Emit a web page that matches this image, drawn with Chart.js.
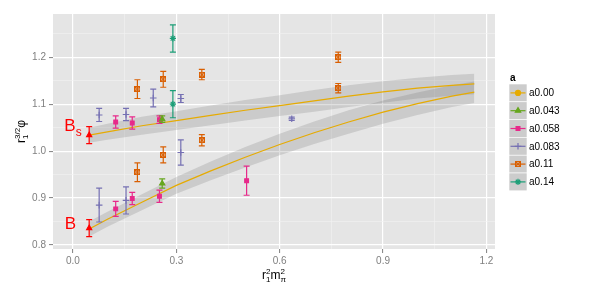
<!DOCTYPE html>
<html>
<head>
<meta charset="utf-8">
<script src="https://cdn.jsdelivr.net/npm/chart.js@4"></script>
<style>
  html, body { margin: 0; padding: 0; background: #fff; }
  #wrap { width: 590px; height: 295px; }
</style>
</head>
<body>
<div id="wrap"><canvas id="chart" width="590" height="295"></canvas></div>
<script>
// fit curves (a -> 0)
const fitX   = [0.047, 0.1, 0.2, 0.3, 0.4, 0.5, 0.6, 0.7, 0.8, 0.9, 1.0, 1.1, 1.165];
const fitBs  = [1.034, 1.041, 1.054, 1.065, 1.076, 1.087, 1.097, 1.107, 1.117, 1.126, 1.134, 1.140, 1.143];
const bandBs = [0.016, 0.017, 0.019, 0.020, 0.021, 0.022, 0.022, 0.023, 0.023, 0.023, 0.022, 0.022, 0.022];
const fitB   = [0.834, 0.855, 0.891, 0.927, 0.958, 0.987, 1.014, 1.039, 1.062, 1.083, 1.101, 1.117, 1.1255];
const bandB  = [0.016, 0.016, 0.017, 0.018, 0.020, 0.022, 0.023, 0.024, 0.025, 0.025, 0.024, 0.023, 0.023];

// lattice points per spacing
const a043X = [0.259, 0.259];
const a043Y = [1.068, 0.931];
const a043E = [0.007, 0.010];

const a058X = [0.124, 0.172, 0.251, 0.124, 0.172, 0.251, 0.504];
const a058Y = [1.062, 1.060, 1.067, 0.877, 0.899, 0.904, 0.937];
const a058E = [0.013, 0.013, 0.008, 0.016, 0.013, 0.013, 0.031];

const a083X = [0.076, 0.154, 0.233, 0.313, 0.635, 0.076, 0.154, 0.313];
const a083Y = [1.077, 1.078, 1.113, 1.112, 1.069, 0.885, 0.895, 0.997];
const a083E = [0.014, 0.013, 0.019, 0.0085, 0.0035, 0.036, 0.029, 0.027];

const a11X = [0.187, 0.262, 0.374, 0.770, 0.187, 0.262, 0.374, 0.770];
const a11Y = [1.132, 1.153, 1.163, 1.200, 0.955, 0.992, 1.023, 1.134];
const a11E = [0.020, 0.017, 0.011, 0.011, 0.020, 0.017, 0.012, 0.010];

const a14X = [0.290, 0.290];
const a14Y = [1.240, 1.100];
const a14E = [0.029, 0.029];

// continuum values (red)
const contX = [0.047, 0.047];
const contY = [1.034, 0.836];
const contE = [0.018, 0.018];
const contLabels = ['Bs', 'B'];

const xTicks = [0.0, 0.15, 0.3, 0.45, 0.6, 0.75, 0.9, 1.05, 1.2];
const yTicks = [0.8, 0.85, 0.9, 0.95, 1.0, 1.05, 1.1, 1.15, 1.2, 1.25];
const xMajor = [0.0, 0.3, 0.6, 0.9, 1.2];
const yMajor = [0.8, 0.9, 1.0, 1.1, 1.2];

const FONT = '"Liberation Sans", Arial, Helvetica, sans-serif';
const colors = {
    a000: '#E6AB02',
    a043: '#66A61E',
    a058: '#E7298A',
    a083: '#7570B3',
    a11: '#D95F02',
    a14: '#1B9E77',
    cont: '#FF0000'
};

function pts(xs, ys) {
    return xs.map((x, i) => ({ x: x, y: ys[i] }));
}

function isMajor(list, v) {
    return list.some(m => Math.abs(m - v) < 1e-6);
}

// small square with an x inside (ggplot shape 7)
function squareCross(color) {
    const c = document.createElement('canvas');
    c.width = 6; c.height = 6;
    const g = c.getContext('2d');
    g.fillStyle = 'rgba(217,95,2,0.35)';
    g.fillRect(0.5, 0.5, 5, 5);
    g.strokeStyle = color;
    g.lineWidth = 1;
    g.strokeRect(0.5, 0.5, 5, 5);
    g.beginPath();
    g.moveTo(0.5, 0.5); g.lineTo(5.5, 5.5);
    g.moveTo(5.5, 0.5); g.lineTo(0.5, 5.5);
    g.stroke();
    return c;
}
const orangeMark = squareCross(colors.a11);

function pointSet(label, xs, ys, es, color, style, radius) {
    return {
        label: label,
        data: pts(xs, ys),
        errs: es,
        showLine: false,
        borderColor: color,
        backgroundColor: color,
        pointStyle: style,
        pointRadius: radius,
        pointBorderWidth: 1.1,
        order: 0
    };
}

const bandHi = (line, half) => line.map((v, i) => v + half[i]);
const bandLo = (line, half) => line.map((v, i) => v - half[i]);

const datasets = [
    pointSet('cont', contX, contY, contE, colors.cont, 'triangle', 3),
    pointSet('a0.043', a043X, a043Y, a043E, colors.a043, 'triangle', 3.1),
    pointSet('a0.058', a058X, a058Y, a058E, colors.a058, 'rect', 2.7),
    pointSet('a0.083', a083X, a083Y, a083E, colors.a083, 'cross', 3.3),
    pointSet('a0.11', a11X, a11Y, a11E, colors.a11, orangeMark, 3),
    pointSet('a0.14', a14X, a14Y, a14E, colors.a14, 'star', 3.1),
    { label: 'fitBs', data: pts(fitX, fitBs), borderColor: colors.a000, borderWidth: 1.2, pointRadius: 0, fill: false, order: 5 },
    { label: 'fitB', data: pts(fitX, fitB), borderColor: colors.a000, borderWidth: 1.2, pointRadius: 0, fill: false, order: 5 },
    { label: 'bandBsHi', data: pts(fitX, bandHi(fitBs, bandBs)), borderWidth: 0, pointRadius: 0, fill: '+1', backgroundColor: 'rgba(100,100,100,0.2)', order: 10 },
    { label: 'bandBsLo', data: pts(fitX, bandLo(fitBs, bandBs)), borderWidth: 0, pointRadius: 0, fill: false, order: 10 },
    { label: 'bandBHi', data: pts(fitX, bandHi(fitB, bandB)), borderWidth: 0, pointRadius: 0, fill: '+1', backgroundColor: 'rgba(100,100,100,0.2)', order: 10 },
    { label: 'bandBLo', data: pts(fitX, bandLo(fitB, bandB)), borderWidth: 0, pointRadius: 0, fill: false, order: 10 }
];

const legendItems = [
    { text: 'a0.00', color: colors.a000, style: 'circle', radius: 2.5 },
    { text: 'a0.043', color: colors.a043, style: 'triangle', radius: 3.1 },
    { text: 'a0.058', color: colors.a058, style: 'rect', radius: 2.7 },
    { text: 'a0.083', color: colors.a083, style: 'cross', radius: 3.3 },
    { text: 'a0.11', color: colors.a11, style: orangeMark, radius: 3 },
    { text: 'a0.14', color: colors.a14, style: 'star', radius: 3.1 }
];

// draws base text with stacked sub/superscripts, centred on cx
function richText(ctx, parts, cx, by) {
    const big = '12px ' + FONT, small = '8px ' + FONT;
    let total = 0;
    const widths = parts.map(p => {
        ctx.font = big;
        let w = ctx.measureText(p.t).width;
        ctx.font = small;
        const s = Math.max(p.sub ? ctx.measureText(p.sub).width : 0, p.sup ? ctx.measureText(p.sup).width : 0);
        total += w + s;
        return [w, s];
    });
    let x = cx - total / 2;
    ctx.textAlign = 'left';
    ctx.textBaseline = 'alphabetic';
    parts.forEach((p, i) => {
        ctx.font = big;
        ctx.fillText(p.t, x, by);
        x += widths[i][0];
        ctx.font = small;
        if (p.sup) ctx.fillText(p.sup, x, by - 5);
        if (p.sub) ctx.fillText(p.sub, x, by + 3);
        x += widths[i][1];
    });
}

const ggplotLook = {
    id: 'ggplotLook',
    beforeDraw(chart) {
        const { ctx, chartArea: a } = chart;
        ctx.save();
        ctx.fillStyle = '#E5E5E5';
        ctx.fillRect(a.left, a.top, a.right - a.left, a.bottom - a.top);
        ctx.restore();
    },
    beforeDatasetDraw(chart, args) {
        const ds = chart.data.datasets[args.index];
        if (!ds.errs) return;
        const { ctx } = chart;
        const xs = chart.scales.x, ys = chart.scales.y;
        ctx.save();
        ctx.strokeStyle = ds.borderColor;
        ctx.lineWidth = 1.2;
        ds.data.forEach((p, i) => {
            const px = xs.getPixelForValue(p.x);
            const top = ys.getPixelForValue(p.y + ds.errs[i]);
            const bot = ys.getPixelForValue(p.y - ds.errs[i]);
            ctx.beginPath();
            ctx.moveTo(px, top); ctx.lineTo(px, bot);
            ctx.moveTo(px - 3, top); ctx.lineTo(px + 3, top);
            ctx.moveTo(px - 3, bot); ctx.lineTo(px + 3, bot);
            ctx.stroke();
        });
        ctx.restore();
    },
    afterDraw(chart) {
        const { ctx, chartArea: a } = chart;
        const xs = chart.scales.x, ys = chart.scales.y;
        ctx.save();

        // B / Bs labels next to the continuum points
        ctx.fillStyle = colors.cont;
        ctx.textBaseline = 'alphabetic';
        contLabels.forEach((lab, i) => {
            const px = xs.getPixelForValue(contX[i]);
            const py = ys.getPixelForValue(contY[i]);
            if (lab === 'Bs') {
                ctx.font = '17px ' + FONT;
                ctx.textAlign = 'left';
                ctx.fillText('B', px - 25, py - 4);
                ctx.font = '12px ' + FONT;
                ctx.fillText('s', px - 13.5, py + 1);
            } else {
                ctx.font = '17px ' + FONT;
                ctx.textAlign = 'right';
                ctx.fillText('B', px - 13, py + 1);
            }
        });

        // axis titles
        ctx.fillStyle = '#000';
        richText(ctx, [{ t: 'r', sub: '1', sup: '2' }, { t: 'm', sub: 'π', sup: '2' }], (a.left + a.right) / 2, 279);
        ctx.save();
        ctx.translate(25, (a.top + a.bottom) / 2);
        ctx.rotate(-Math.PI / 2);
        richText(ctx, [{ t: 'r', sub: '1', sup: '3/2' }, { t: 'φ' }], 0, 0);
        ctx.restore();

        // legend
        const lx = 509, ly = 84, kw = 18, kh = 17.8;
        ctx.font = 'bold 10px ' + FONT;
        ctx.textAlign = 'left';
        ctx.textBaseline = 'alphabetic';
        ctx.fillText('a', lx + 1, 81);
        legendItems.forEach((it, i) => {
            const top = ly + i * kh;
            const cy = top + kh / 2;
            ctx.fillStyle = '#CCCCCC';
            ctx.fillRect(lx, top, kw, kh);
            ctx.strokeStyle = '#fff';
            ctx.lineWidth = 0.6;
            ctx.strokeRect(lx, top, kw, kh);
            ctx.strokeStyle = it.color;
            ctx.lineWidth = 1.2;
            ctx.beginPath();
            ctx.moveTo(lx + 1.5, cy); ctx.lineTo(lx + kw - 1.5, cy);
            ctx.stroke();
            ctx.fillStyle = it.color;
            Chart.helpers.drawPoint(ctx, { pointStyle: it.style, radius: it.radius, rotation: 0, borderWidth: 1.1 }, lx + kw / 2, cy);
            ctx.fillStyle = '#000';
            ctx.font = '10px ' + FONT;
            ctx.textBaseline = 'middle';
            ctx.fillText(it.text, lx + kw + 2, cy + 0.5);
            ctx.textBaseline = 'alphabetic';
        });
        ctx.restore();
    }
};

function gridColor(list) {
    return ctx => (ctx.tick && isMajor(list, ctx.tick.value)) ? '#FFFFFF' : '#F2F2F2';
}
function gridWidth(list) {
    return ctx => (ctx.tick && isMajor(list, ctx.tick.value)) ? 1.2 : 0.6;
}
function tickColor(list) {
    return ctx => (ctx.tick && isMajor(list, ctx.tick.value)) ? '#7F7F7F' : 'rgba(0,0,0,0)';
}

new Chart(document.getElementById('chart'), {
    type: 'line',
    data: { datasets: datasets },
    options: {
        responsive: false,
        animation: false,
        events: [],
        layout: { padding: { top: 14, right: 95, left: 0, bottom: 0 } },
        plugins: {
            legend: { display: false },
            tooltip: { enabled: false }
        },
        scales: {
            x: {
                type: 'linear',
                min: -0.058,
                max: 1.225,
                afterBuildTicks: s => { s.ticks = xTicks.map(v => ({ value: v })); },
                afterFit: s => { s.height = 46; },
                border: { display: false },
                grid: { color: gridColor(xMajor), lineWidth: gridWidth(xMajor), tickColor: tickColor(xMajor), tickLength: 4, tickWidth: 1 },
                ticks: {
                    autoSkip: false,
                    maxRotation: 0,
                    padding: 2,
                    color: '#7F7F7F',
                    font: { family: FONT, size: 10 },
                    callback: v => isMajor(xMajor, v) ? v.toFixed(1) : ''
                }
            },
            y: {
                type: 'linear',
                min: 0.7915,
                max: 1.292,
                afterBuildTicks: s => { s.ticks = yTicks.map(v => ({ value: v })); },
                afterFit: s => { s.width = 53; },
                border: { display: false },
                grid: { color: gridColor(yMajor), lineWidth: gridWidth(yMajor), tickColor: tickColor(yMajor), tickLength: 4, tickWidth: 1 },
                ticks: {
                    autoSkip: false,
                    padding: 3,
                    color: '#7F7F7F',
                    font: { family: FONT, size: 10 },
                    callback: v => isMajor(yMajor, v) ? v.toFixed(1) : ''
                }
            }
        }
    },
    plugins: [ggplotLook]
});
</script>
</body>
</html>
